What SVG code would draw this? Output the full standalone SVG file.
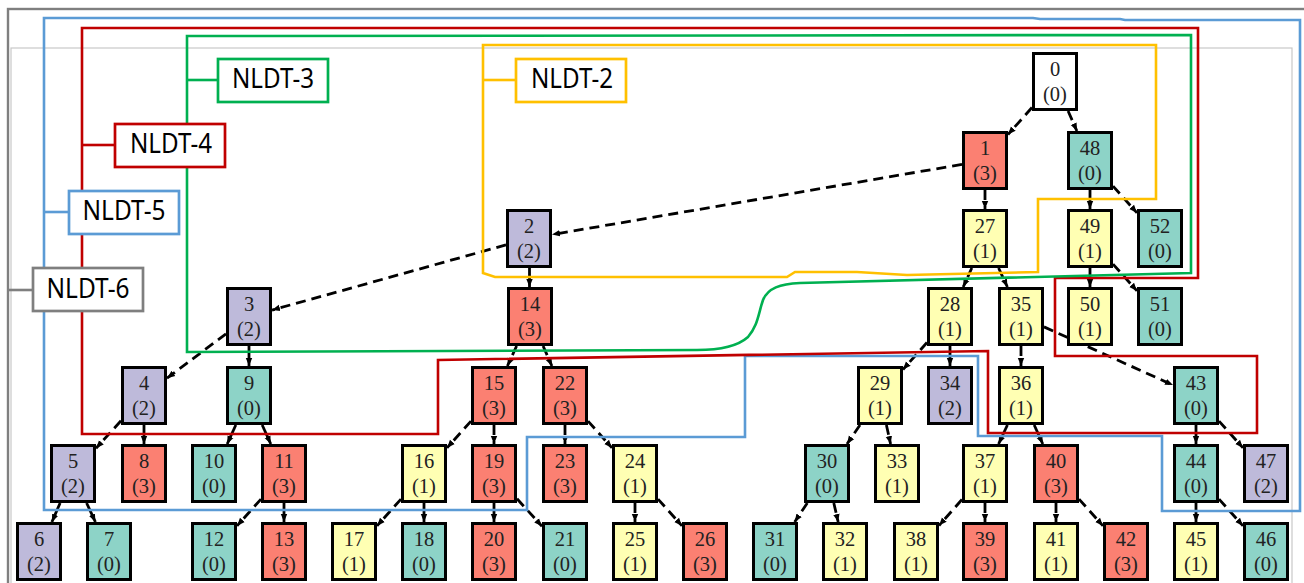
<svg xmlns="http://www.w3.org/2000/svg" width="1304" height="583" viewBox="0 0 1304 583">
<style>
.nd rect{stroke:#000;stroke-width:3}
.nd text{font-family:"Liberation Serif",serif;font-size:20.5px;fill:#222;text-anchor:middle}
.w{fill:#fff}.s{fill:#fb8072}.t{fill:#8dd3c7}.y{fill:#ffffb3}.l{fill:#bebada}
#edges line{stroke:#000;stroke-width:2.8;stroke-dasharray:10,6;marker-end:url(#ah)}
#edges line.so{stroke-dasharray:none}
.reg{fill:none;stroke-width:2.6;stroke-linejoin:miter}
.lab rect{fill:#fff;stroke-width:2.7}
.lab line{stroke-width:2.6}
.lab text{font-family:"Noto Sans","Open Sans",sans-serif;font-size:26.5px;fill:#000;text-anchor:middle}
</style>
<defs>
<marker id="ah" viewBox="0 0 10 10" refX="10" refY="5" markerWidth="8" markerHeight="8" markerUnits="userSpaceOnUse" orient="auto"><path d="M0,1 L10,5 L0,9 z" fill="#000"/></marker>
</defs>
<rect x="0" y="0" width="1304" height="583" fill="#fff"/>
<rect x="11" y="48" width="1281" height="560" fill="none" stroke="#c8c8c8" stroke-width="1.2"/>
<rect x="8" y="9" width="1320" height="600" fill="none" stroke="#7f7f7f" stroke-width="2.4"/>

<g id="edges">
<line x1="1032" y1="107.5" x2="1008" y2="134.5"/>
<line x1="1068.1" y1="111" x2="1076.9" y2="131"/>
<line x1="962" y1="164.4" x2="552" y2="234.6"/>
<line x1="985" y1="190" x2="985" y2="209"/>
<line class="so" x1="1090" y1="190" x2="1090" y2="209"/>
<line x1="1113" y1="186.1" x2="1137" y2="212.9"/>
<line class="so" x1="1090" y1="268" x2="1090" y2="287"/>
<line x1="1113" y1="264.1" x2="1137" y2="290.9"/>
<line x1="506" y1="244.9" x2="272" y2="310.1"/>
<line class="so" x1="529.5" y1="268" x2="529.5" y2="287"/>
<line x1="971.8" y1="268" x2="963.2" y2="287"/>
<line x1="998.6" y1="268" x2="1007.4" y2="287"/>
<line x1="226" y1="333.8" x2="167" y2="378.2"/>
<line class="so" x1="249" y1="346" x2="249" y2="366"/>
<line x1="516.6" y1="346" x2="507.4" y2="366"/>
<line x1="543.1" y1="346" x2="551.9" y2="366"/>
<line x1="927" y1="342.5" x2="903" y2="369.5"/>
<line class="so" x1="950" y1="346" x2="950" y2="366"/>
<line x1="1021" y1="346" x2="1021" y2="366"/>
<line x1="1044" y1="326.9" x2="1173" y2="385.1"/>
<line x1="121" y1="420.8" x2="96" y2="448.2"/>
<line class="so" x1="144" y1="425" x2="144" y2="444"/>
<line class="so" x1="235.8" y1="425" x2="227.2" y2="444"/>
<line class="so" x1="262.2" y1="425" x2="270.8" y2="444"/>
<line x1="471" y1="421.1" x2="447" y2="447.9"/>
<line x1="494" y1="425" x2="494" y2="444"/>
<line x1="565" y1="425" x2="565" y2="444"/>
<line x1="588" y1="421.1" x2="612" y2="447.9"/>
<line x1="860" y1="425" x2="847" y2="444"/>
<line x1="886.4" y1="425" x2="890.6" y2="444"/>
<line class="so" x1="1007.4" y1="425" x2="998.6" y2="444"/>
<line class="so" x1="1034.2" y1="425" x2="1042.8" y2="444"/>
<line class="so" x1="1196" y1="425" x2="1196" y2="444"/>
<line x1="1219" y1="421.1" x2="1243" y2="447.9"/>
<line class="so" x1="60.1" y1="503" x2="51.9" y2="522"/>
<line class="so" x1="86.6" y1="503" x2="95.4" y2="522"/>
<line x1="261" y1="499.1" x2="237" y2="525.9"/>
<line class="so" x1="284" y1="503" x2="284" y2="522"/>
<line x1="401" y1="499.1" x2="377" y2="525.9"/>
<line class="so" x1="424" y1="503" x2="424" y2="522"/>
<line class="so" x1="494" y1="503" x2="494" y2="522"/>
<line x1="517" y1="498.8" x2="542" y2="526.2"/>
<line x1="635" y1="503" x2="635" y2="522"/>
<line x1="658" y1="499.1" x2="682" y2="525.9"/>
<line x1="807.3" y1="503" x2="794.7" y2="522"/>
<line x1="833.8" y1="503" x2="838.2" y2="522"/>
<line x1="962" y1="499.5" x2="939" y2="525.5"/>
<line x1="985" y1="503" x2="985" y2="522"/>
<line x1="1056" y1="503" x2="1056" y2="522"/>
<line x1="1079" y1="499.1" x2="1103" y2="525.9"/>
<line class="so" x1="1196" y1="503" x2="1196" y2="522"/>
<line x1="1219" y1="499.1" x2="1243" y2="525.9"/>
</g>

<g id="nodes">
<g id="n0" class="nd" transform="translate(1032,52)"><rect class="w" x="1.5" y="1.5" width="43" height="56"/><text x="23" y="24">0</text><text x="23" y="49">(0)</text></g>
<g id="n1" class="nd" transform="translate(962,131)"><rect class="s" x="1.5" y="1.5" width="43" height="56"/><text x="23" y="24">1</text><text x="23" y="49">(3)</text></g>
<g id="n48" class="nd" transform="translate(1067,131)"><rect class="t" x="1.5" y="1.5" width="43" height="56"/><text x="23" y="24">48</text><text x="23" y="49">(0)</text></g>
<g id="n2" class="nd" transform="translate(506,209)"><rect class="l" x="1.5" y="1.5" width="43" height="56"/><text x="23" y="24">2</text><text x="23" y="49">(2)</text></g>
<g id="n27" class="nd" transform="translate(962,209)"><rect class="y" x="1.5" y="1.5" width="43" height="56"/><text x="23" y="24">27</text><text x="23" y="49">(1)</text></g>
<g id="n49" class="nd" transform="translate(1067,209)"><rect class="y" x="1.5" y="1.5" width="43" height="56"/><text x="23" y="24">49</text><text x="23" y="49">(1)</text></g>
<g id="n52" class="nd" transform="translate(1137,209)"><rect class="t" x="1.5" y="1.5" width="43" height="56"/><text x="23" y="24">52</text><text x="23" y="49">(0)</text></g>
<g id="n3" class="nd" transform="translate(226,287)"><rect class="l" x="1.5" y="1.5" width="43" height="56"/><text x="23" y="24">3</text><text x="23" y="49">(2)</text></g>
<g id="n14" class="nd" transform="translate(507,287)"><rect class="s" x="1.5" y="1.5" width="43" height="56"/><text x="23" y="24">14</text><text x="23" y="49">(3)</text></g>
<g id="n28" class="nd" transform="translate(927,287)"><rect class="y" x="1.5" y="1.5" width="43" height="56"/><text x="23" y="24">28</text><text x="23" y="49">(1)</text></g>
<g id="n35" class="nd" transform="translate(998,287)"><rect class="y" x="1.5" y="1.5" width="43" height="56"/><text x="23" y="24">35</text><text x="23" y="49">(1)</text></g>
<g id="n50" class="nd" transform="translate(1067,287)"><rect class="y" x="1.5" y="1.5" width="43" height="56"/><text x="23" y="24">50</text><text x="23" y="49">(1)</text></g>
<g id="n51" class="nd" transform="translate(1137,287)"><rect class="t" x="1.5" y="1.5" width="43" height="56"/><text x="23" y="24">51</text><text x="23" y="49">(0)</text></g>
<g id="n4" class="nd" transform="translate(121,366)"><rect class="l" x="1.5" y="1.5" width="43" height="56"/><text x="23" y="24">4</text><text x="23" y="49">(2)</text></g>
<g id="n9" class="nd" transform="translate(226,366)"><rect class="t" x="1.5" y="1.5" width="43" height="56"/><text x="23" y="24">9</text><text x="23" y="49">(0)</text></g>
<g id="n15" class="nd" transform="translate(471,366)"><rect class="s" x="1.5" y="1.5" width="43" height="56"/><text x="23" y="24">15</text><text x="23" y="49">(3)</text></g>
<g id="n22" class="nd" transform="translate(542,366)"><rect class="s" x="1.5" y="1.5" width="43" height="56"/><text x="23" y="24">22</text><text x="23" y="49">(3)</text></g>
<g id="n29" class="nd" transform="translate(857,366)"><rect class="y" x="1.5" y="1.5" width="43" height="56"/><text x="23" y="24">29</text><text x="23" y="49">(1)</text></g>
<g id="n34" class="nd" transform="translate(927,366)"><rect class="l" x="1.5" y="1.5" width="43" height="56"/><text x="23" y="24">34</text><text x="23" y="49">(2)</text></g>
<g id="n36" class="nd" transform="translate(998,366)"><rect class="y" x="1.5" y="1.5" width="43" height="56"/><text x="23" y="24">36</text><text x="23" y="49">(1)</text></g>
<g id="n43" class="nd" transform="translate(1173,366)"><rect class="t" x="1.5" y="1.5" width="43" height="56"/><text x="23" y="24">43</text><text x="23" y="49">(0)</text></g>
<g id="n5" class="nd" transform="translate(50,444)"><rect class="l" x="1.5" y="1.5" width="43" height="56"/><text x="23" y="24">5</text><text x="23" y="49">(2)</text></g>
<g id="n8" class="nd" transform="translate(121,444)"><rect class="s" x="1.5" y="1.5" width="43" height="56"/><text x="23" y="24">8</text><text x="23" y="49">(3)</text></g>
<g id="n10" class="nd" transform="translate(191,444)"><rect class="t" x="1.5" y="1.5" width="43" height="56"/><text x="23" y="24">10</text><text x="23" y="49">(0)</text></g>
<g id="n11" class="nd" transform="translate(261,444)"><rect class="s" x="1.5" y="1.5" width="43" height="56"/><text x="23" y="24">11</text><text x="23" y="49">(3)</text></g>
<g id="n16" class="nd" transform="translate(401,444)"><rect class="y" x="1.5" y="1.5" width="43" height="56"/><text x="23" y="24">16</text><text x="23" y="49">(1)</text></g>
<g id="n19" class="nd" transform="translate(471,444)"><rect class="s" x="1.5" y="1.5" width="43" height="56"/><text x="23" y="24">19</text><text x="23" y="49">(3)</text></g>
<g id="n23" class="nd" transform="translate(542,444)"><rect class="s" x="1.5" y="1.5" width="43" height="56"/><text x="23" y="24">23</text><text x="23" y="49">(3)</text></g>
<g id="n24" class="nd" transform="translate(612,444)"><rect class="y" x="1.5" y="1.5" width="43" height="56"/><text x="23" y="24">24</text><text x="23" y="49">(1)</text></g>
<g id="n30" class="nd" transform="translate(804,444)"><rect class="t" x="1.5" y="1.5" width="43" height="56"/><text x="23" y="24">30</text><text x="23" y="49">(0)</text></g>
<g id="n33" class="nd" transform="translate(874,444)"><rect class="y" x="1.5" y="1.5" width="43" height="56"/><text x="23" y="24">33</text><text x="23" y="49">(1)</text></g>
<g id="n37" class="nd" transform="translate(962,444)"><rect class="y" x="1.5" y="1.5" width="43" height="56"/><text x="23" y="24">37</text><text x="23" y="49">(1)</text></g>
<g id="n40" class="nd" transform="translate(1033,444)"><rect class="s" x="1.5" y="1.5" width="43" height="56"/><text x="23" y="24">40</text><text x="23" y="49">(3)</text></g>
<g id="n44" class="nd" transform="translate(1173,444)"><rect class="t" x="1.5" y="1.5" width="43" height="56"/><text x="23" y="24">44</text><text x="23" y="49">(0)</text></g>
<g id="n47" class="nd" transform="translate(1243,444)"><rect class="l" x="1.5" y="1.5" width="43" height="56"/><text x="23" y="24">47</text><text x="23" y="49">(2)</text></g>
<g id="n6" class="nd" transform="translate(16,522)"><rect class="l" x="1.5" y="1.5" width="43" height="56"/><text x="23" y="24">6</text><text x="23" y="49">(2)</text></g>
<g id="n7" class="nd" transform="translate(86,522)"><rect class="t" x="1.5" y="1.5" width="43" height="56"/><text x="23" y="24">7</text><text x="23" y="49">(0)</text></g>
<g id="n12" class="nd" transform="translate(191,522)"><rect class="t" x="1.5" y="1.5" width="43" height="56"/><text x="23" y="24">12</text><text x="23" y="49">(0)</text></g>
<g id="n13" class="nd" transform="translate(261,522)"><rect class="s" x="1.5" y="1.5" width="43" height="56"/><text x="23" y="24">13</text><text x="23" y="49">(3)</text></g>
<g id="n17" class="nd" transform="translate(331,522)"><rect class="y" x="1.5" y="1.5" width="43" height="56"/><text x="23" y="24">17</text><text x="23" y="49">(1)</text></g>
<g id="n18" class="nd" transform="translate(401,522)"><rect class="t" x="1.5" y="1.5" width="43" height="56"/><text x="23" y="24">18</text><text x="23" y="49">(0)</text></g>
<g id="n20" class="nd" transform="translate(471,522)"><rect class="s" x="1.5" y="1.5" width="43" height="56"/><text x="23" y="24">20</text><text x="23" y="49">(3)</text></g>
<g id="n21" class="nd" transform="translate(542,522)"><rect class="t" x="1.5" y="1.5" width="43" height="56"/><text x="23" y="24">21</text><text x="23" y="49">(0)</text></g>
<g id="n25" class="nd" transform="translate(612,522)"><rect class="y" x="1.5" y="1.5" width="43" height="56"/><text x="23" y="24">25</text><text x="23" y="49">(1)</text></g>
<g id="n26" class="nd" transform="translate(682,522)"><rect class="s" x="1.5" y="1.5" width="43" height="56"/><text x="23" y="24">26</text><text x="23" y="49">(3)</text></g>
<g id="n31" class="nd" transform="translate(752,522)"><rect class="t" x="1.5" y="1.5" width="43" height="56"/><text x="23" y="24">31</text><text x="23" y="49">(0)</text></g>
<g id="n32" class="nd" transform="translate(822,522)"><rect class="y" x="1.5" y="1.5" width="43" height="56"/><text x="23" y="24">32</text><text x="23" y="49">(1)</text></g>
<g id="n38" class="nd" transform="translate(893,522)"><rect class="y" x="1.5" y="1.5" width="43" height="56"/><text x="23" y="24">38</text><text x="23" y="49">(1)</text></g>
<g id="n39" class="nd" transform="translate(962,522)"><rect class="s" x="1.5" y="1.5" width="43" height="56"/><text x="23" y="24">39</text><text x="23" y="49">(3)</text></g>
<g id="n41" class="nd" transform="translate(1033,522)"><rect class="y" x="1.5" y="1.5" width="43" height="56"/><text x="23" y="24">41</text><text x="23" y="49">(1)</text></g>
<g id="n42" class="nd" transform="translate(1103,522)"><rect class="s" x="1.5" y="1.5" width="43" height="56"/><text x="23" y="24">42</text><text x="23" y="49">(3)</text></g>
<g id="n45" class="nd" transform="translate(1173,522)"><rect class="y" x="1.5" y="1.5" width="43" height="56"/><text x="23" y="24">45</text><text x="23" y="49">(1)</text></g>
<g id="n46" class="nd" transform="translate(1243,522)"><rect class="t" x="1.5" y="1.5" width="43" height="56"/><text x="23" y="24">46</text><text x="23" y="49">(0)</text></g>
</g>

<g id="regions">
<path id="r5" class="reg" stroke="#5b9bd5" d="M44,18 H1033 L1040,19 H1120 L1125,20 H1300 V511 H1162 V436 H978 V356 H745 V437 H527 V510 H44 Z"/>
<path id="r4" class="reg" stroke="#c00000" d="M82,28 H1198 V278 H1055 V356 H1257 V433 H988 V351 L438,360 V434 H82 Z"/>
<path id="r3" class="reg" stroke="#00b050" d="M187,36 L1191,35 L1191,273 L800,283 C780,284 768,288 763,300 C758,315 758,325 748,337 C738,346 720,350 697,350 L187,352 Z"/>
<path id="r2" class="reg" stroke="#ffc000" d="M483,45 H1156 V199 H1038 V272 L907,275 L857,272 L795,272 L787,277 H495 L483,273 Z"/>
</g>

<g id="labels">
<g id="lab6" class="lab"><line x1="8" y1="290" x2="32" y2="290" stroke="#7f7f7f"/><rect x="33" y="268" width="110" height="43" stroke="#7f7f7f"/><text x="88" y="297.5" textLength="83" lengthAdjust="spacingAndGlyphs">NLDT-6</text></g>
<g id="lab5" class="lab"><line x1="44" y1="212" x2="68" y2="212" stroke="#5b9bd5"/><rect x="69" y="191" width="110" height="43" stroke="#5b9bd5"/><text x="124" y="220" textLength="83" lengthAdjust="spacingAndGlyphs">NLDT-5</text></g>
<g id="lab4" class="lab"><line x1="82" y1="145" x2="114" y2="145" stroke="#c00000"/><rect x="115" y="124" width="110" height="43" stroke="#c00000"/><text x="171" y="153" textLength="82" lengthAdjust="spacingAndGlyphs">NLDT-4</text></g>
<g id="lab3" class="lab"><line x1="187" y1="80" x2="217" y2="80" stroke="#00b050"/><rect x="218" y="59" width="110" height="43" stroke="#00b050"/><text x="273" y="88" textLength="82" lengthAdjust="spacingAndGlyphs">NLDT-3</text></g>
<g id="lab2" class="lab"><line x1="483" y1="80" x2="515" y2="80" stroke="#ffc000"/><rect x="516" y="59" width="110" height="43" stroke="#ffc000"/><text x="572" y="88" textLength="82" lengthAdjust="spacingAndGlyphs">NLDT-2</text></g>
</g>
</svg>
